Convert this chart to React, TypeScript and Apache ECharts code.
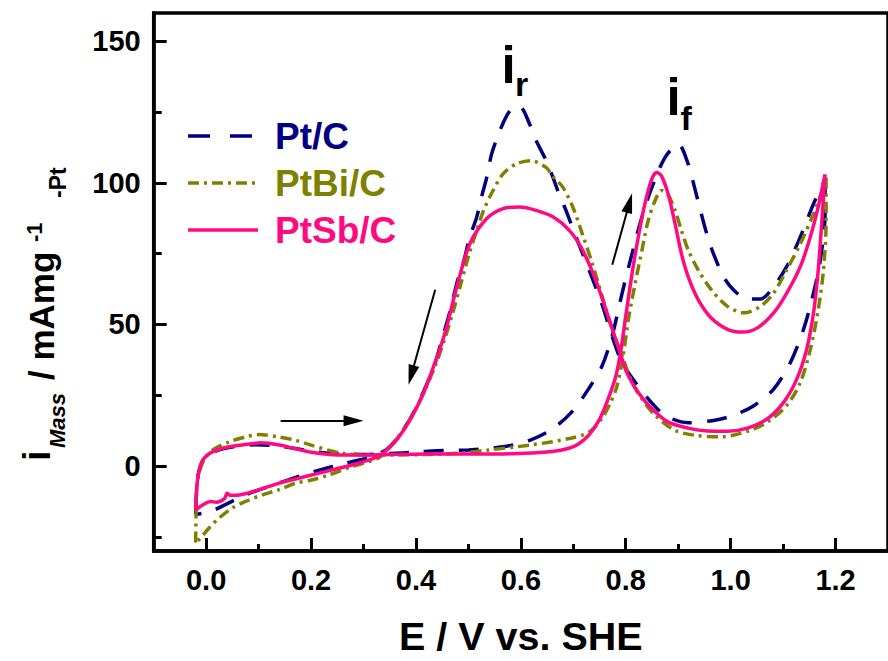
import React, { useEffect, useRef } from "react";
import * as echarts from "echarts";

const FONT = '"Liberation Sans", Arial, Helvetica, sans-serif';

// Axis ticks
const xMajorTicks = [0, 0.2, 0.4, 0.6, 0.8, 1.0, 1.2];
const xMinorTicks = [0.1, 0.3, 0.5, 0.7, 0.9, 1.1];
const yMajorTicks = [0, 50, 100, 150];
const yMinorTicks = [-25, 25, 75, 125];

const seriesNames = ["Pt/C", "PtBi/C", "PtSb/C"];
const seriesColors = ["#000080", "#808000", "#FF0A80"];

// Pt/C loop (forward then reverse scan)
const ptcE = [
  -0.02, -0.018, -0.014, -0.006, 0.01, 0.03, 0.06, 0.094, 0.13, 0.17,
  0.2, 0.24, 0.3, 0.35, 0.4, 0.44, 0.5, 0.566, 0.617, 0.661,
  0.699, 0.73, 0.755, 0.774, 0.793, 0.812, 0.831, 0.85, 0.875, 0.9,
  0.919, 0.931, 0.944, 0.956, 0.967, 0.986, 1.005, 1.032, 1.057, 1.082,
  1.107, 1.133, 1.158, 1.18,
  1.18, 1.17, 1.158, 1.139, 1.114, 1.082, 1.045, 1.005, 0.967, 0.919,
  0.875, 0.843, 0.818, 0.793, 0.774, 0.755, 0.73, 0.705, 0.686, 0.673,
  0.661, 0.648, 0.629, 0.617, 0.601, 0.588, 0.573, 0.557, 0.544, 0.535,
  0.525, 0.516, 0.503, 0.49, 0.478, 0.466, 0.45, 0.435, 0.415, 0.39,
  0.365, 0.345, 0.315, 0.264, 0.201, 0.138, 0.075, 0.009, -0.02,
];
const ptcI = [
  -17, -8, -2, 2, 4.5, 6, 7, 7.5, 7.2, 6.2,
  5.2, 4.4, 4.1, 4.4, 4.9, 5.4, 5.7, 6.8, 9.1, 13.2,
  19.5, 27.5, 35.4, 46, 61, 75, 88, 98.5, 109, 113.7,
  106.7, 98.5, 89.1, 81, 75.1, 67, 62.3, 59, 59, 63.4,
  70.5, 81, 92.6, 101,
  89, 71.6, 61.1, 48.3, 36.6, 27.2, 21.4, 17.9, 16.1, 15.3,
  17.9, 23.7, 29.6, 36.6, 45.9, 57, 69.3, 81, 90.3, 96,
  102, 108, 115, 120.6, 126.6, 127, 123.7, 117, 110, 102,
  95, 88, 81, 71.6, 64.6, 55.3, 45, 35.5, 26.5, 17,
  10, 6, 3.3, 0.9, -2.2, -6.1, -10.2, -16, -17,
];

// PtBi/C loop
const ptbiE = [
  -0.02, -0.019, -0.017, -0.006, 0.012, 0.044, 0.075, 0.1, 0.138, 0.17,
  0.2, 0.233, 0.264, 0.3, 0.36, 0.42, 0.48, 0.535, 0.617, 0.692,
  0.73, 0.755, 0.77, 0.783, 0.795, 0.805, 0.818, 0.831, 0.843, 0.856,
  0.868, 0.881, 0.894, 0.906, 0.919, 0.938, 0.963, 0.994, 1.026, 1.057,
  1.082, 1.107, 1.133, 1.158, 1.177, 1.182,
  1.182, 1.177, 1.167, 1.152, 1.133, 1.107, 1.07, 1.032, 0.982, 0.931,
  0.894, 0.856, 0.831, 0.812, 0.793, 0.774, 0.755, 0.736, 0.717, 0.699,
  0.68, 0.66, 0.648, 0.62, 0.591, 0.566, 0.547, 0.529, 0.516, 0.5,
  0.485, 0.47, 0.455, 0.438, 0.415, 0.39, 0.365, 0.345, 0.327, 0.277,
  0.233, 0.201, 0.17, 0.138, 0.107, 0.075, 0.05, 0.025, 0.006, -0.013, -0.02,
];
const ptbiI = [
  -27, -15, -5.5, 1.5, 5.6, 8.5, 10.3, 11.1, 10.3, 9.1,
  7.4, 5.6, 4.4, 3.9, 3.9, 4.1, 4.5, 5.6, 7.4, 9.7,
  12, 17, 22, 28, 39, 51.8, 64.6, 76.3, 86.8, 93.8,
  97.3, 95.6, 90.3, 83.3, 76.3, 69.3, 62.3, 56.4, 54.1, 56.4,
  61.1, 69.3, 78.6, 89.1, 98.5, 102,
  86.8, 69.3, 55.3, 41.3, 29.6, 21.4, 15.5, 12.3, 10.3, 10.9,
  12.6, 17.9, 23.7, 29.6, 38.9, 48.3, 59.9, 71.6, 82.1, 91.5,
  98.5, 102.5, 105.5, 107.8, 106.7, 103.2, 97.3, 90.3, 83.3, 74,
  64, 54, 45, 36, 26, 17, 10, 5.5, 2.7, -0.2,
  -3.2, -4.9, -6.1, -8.4, -10.2, -12.5, -14.8, -18.3, -21.8, -25.9, -27,
];

// PtSb/C loop
const ptsbE = [
  -0.02, -0.018, -0.015, -0.008, 0.0, 0.012, 0.03, 0.05, 0.075, 0.105,
  0.14, 0.17, 0.2, 0.235, 0.27, 0.3, 0.35, 0.4, 0.45, 0.5,
  0.566, 0.62, 0.66, 0.69, 0.71, 0.73, 0.75, 0.765, 0.78, 0.79,
  0.8, 0.812, 0.824, 0.837, 0.85, 0.859, 0.868, 0.881, 0.894, 0.906,
  0.919, 0.938, 0.963, 0.994, 1.022, 1.051, 1.082, 1.107, 1.133, 1.152,
  1.167, 1.18,
  1.174, 1.167, 1.158, 1.145, 1.126, 1.101, 1.07, 1.032, 0.994, 0.956,
  0.919, 0.881, 0.85, 0.824, 0.802, 0.787, 0.768, 0.743, 0.717, 0.692,
  0.661, 0.629, 0.598, 0.566, 0.535, 0.503, 0.478, 0.459, 0.445, 0.434,
  0.415, 0.39, 0.365, 0.345, 0.327, 0.289, 0.252, 0.214, 0.176, 0.138,
  0.1, 0.063, 0.045, 0.04, 0.035, 0.019, 0.008, -0.005, -0.02,
];
const ptsbI = [
  -15.5, -8, -3, 1.5, 3.5, 5, 6.2, 7, 7.6, 8.2,
  7.4, 6.1, 4.9, 4.1, 3.9, 3.9, 4.1, 4.2, 4.3, 4.3,
  4.3, 4.6, 5.1, 6.2, 7.8, 11, 16.5, 23, 31, 40,
  53, 68, 81, 93, 101.5, 103.7, 102.5, 96, 85.6, 75.1,
  66.9, 58.8, 52.3, 48.3, 47.3, 48.8, 54.1, 61.1, 70.5, 81,
  91.5, 103,
  86.8, 69.3, 54.1, 41.3, 30.7, 22.5, 16.7, 13.4, 12.3, 12.4,
  13.4, 15.5, 20.2, 26, 33, 41.3, 52, 65.5, 76.5, 83.3,
  88, 90.3, 91.5, 90.9, 87.4, 78.6, 63.4, 49.4, 41, 35.4,
  26, 16.7, 9.7, 5.8, 3.3, 0.9, -0.8, -2.6, -4.3, -6.1,
  -8.4, -10.2, -10.3, -9.6, -11.5, -12.8, -12.5, -13.6, -15.5,
];

// Scan-direction arrows (data coordinates: start, end)
const arrowStarts = [
  [0.142, 16],
  [0.4367, 62.3],
  [0.7743, 71.1],
];
const arrowEnds = [
  [0.281, 16],
  [0.391, 32.1],
  [0.807, 92.9],
];

const xTitle = "E / V vs. SHE";

const loops = [
  { E: ptcE, I: ptcI, dash: [20, 15] as number[] | string },
  { E: ptbiE, I: ptbiI, dash: [11, 5, 3, 5] as number[] | string },
  { E: ptsbE, I: ptsbI, dash: "solid" as number[] | string },
];
const legendDash: (number[] | null)[] = [[22, 20], [11, 5, 3, 5], null];

function rotText(text: string, fs: number, baselineX: number, startY: number, italic = false) {
  return {
    type: "text",
    x: baselineX - 0.3465 * fs,
    y: startY,
    rotation: Math.PI / 2,
    silent: true,
    style: {
      text,
      x: 0,
      y: 0,
      align: "left",
      verticalAlign: "middle",
      fontSize: fs,
      fontWeight: "bold",
      fontStyle: italic ? "italic" : "normal",
      fontFamily: FONT,
      fill: "#000",
    },
  };
}

function flatText(text: string, fs: number, leftX: number, baselineY: number, color = "#000") {
  return {
    type: "text",
    x: leftX,
    y: baselineY - 0.3465 * fs,
    silent: true,
    style: {
      text,
      x: 0,
      y: 0,
      align: "left",
      verticalAlign: "middle",
      fontSize: fs,
      fontWeight: "bold",
      fontFamily: FONT,
      fill: color,
    },
  };
}

export default function App() {
  const ref = useRef<HTMLDivElement>(null);

  useEffect(() => {
    document.body.style.margin = "0";
    if (!ref.current) return;
    const chart = echarts.init(ref.current, null, { renderer: "svg" });

    const axisLineStyle = { color: "#000", width: 3.5 };
    const tickLineStyle = { color: "#000", width: 3 };

    const legendRows = [136, 183, 230];
    const legendGraphics: any[] = [];
    seriesNames.forEach((n, i) => {
      legendGraphics.push({
        type: "line",
        silent: true,
        shape: { x1: 188, y1: legendRows[i], x2: 258, y2: legendRows[i] },
        style: {
          stroke: seriesColors[i],
          lineWidth: 3.5,
          lineDash: legendDash[i] || undefined,
          lineCap: "butt",
        },
      });
      legendGraphics.push({
        type: "text",
        x: 275,
        y: legendRows[i],
        silent: true,
        style: {
          text: n,
          x: 0,
          y: 0,
          align: "left",
          verticalAlign: "middle",
          fontSize: 37,
          fontWeight: "bold",
          fontFamily: FONT,
          fill: seriesColors[i],
        },
      });
    });

    const option: any = {
      animation: false,
      backgroundColor: "#fff",
      textStyle: { fontFamily: FONT },
      grid: {
        left: 153.7,
        right: -7.5,
        top: 13,
        bottom: 104.5,
        show: true,
        borderColor: "#000",
        borderWidth: 3.5,
        backgroundColor: "transparent",
      },
      xAxis: [
        {
          type: "value",
          min: -0.1,
          max: 1.3,
          position: "bottom",
          axisLine: { show: true, onZero: false, lineStyle: axisLineStyle },
          axisTick: {
            show: true,
            inside: true,
            length: 13,
            customValues: xMajorTicks,
            lineStyle: tickLineStyle,
          },
          axisLabel: {
            show: true,
            customValues: xMajorTicks,
            formatter: (v: number) => v.toFixed(1),
            margin: 14,
            fontSize: 29,
            fontWeight: "bold",
            color: "#000",
            fontFamily: FONT,
          },
          splitLine: { show: false },
          name: xTitle,
          nameLocation: "middle",
          nameGap: 65,
          nameTextStyle: {
            fontSize: 39.5,
            fontWeight: "bold",
            color: "#000",
            fontFamily: FONT,
          },
        },
        {
          type: "value",
          min: -0.1,
          max: 1.3,
          position: "bottom",
          axisLine: { show: false, onZero: false },
          axisTick: {
            show: true,
            inside: true,
            length: 7,
            customValues: xMinorTicks,
            lineStyle: tickLineStyle,
          },
          axisLabel: { show: false },
          splitLine: { show: false },
        },
      ],
      yAxis: [
        {
          type: "value",
          min: -30,
          max: 160,
          position: "left",
          axisLine: { show: true, onZero: false, lineStyle: axisLineStyle },
          axisTick: {
            show: true,
            inside: true,
            length: 13,
            customValues: yMajorTicks,
            lineStyle: tickLineStyle,
          },
          axisLabel: {
            show: true,
            customValues: yMajorTicks,
            formatter: (v: number) => String(v),
            margin: 13,
            fontSize: 29,
            fontWeight: "bold",
            color: "#000",
            fontFamily: FONT,
          },
          splitLine: { show: false },
        },
        {
          type: "value",
          min: -30,
          max: 160,
          position: "left",
          axisLine: { show: false, onZero: false },
          axisTick: {
            show: true,
            inside: true,
            length: 8,
            customValues: yMinorTicks,
            lineStyle: tickLineStyle,
          },
          axisLabel: { show: false },
          splitLine: { show: false },
        },
      ],
      series: [
        ...loops.map((l, i) => ({
          type: "line",
          name: seriesNames[i],
          xAxisIndex: 0,
          yAxisIndex: 0,
          data: l.E.map((e, k) => [e, l.I[k]]),
          showSymbol: false,
          symbol: "none",
          smooth: 0.3,
          silent: true,
          z: 2 + i,
          lineStyle: {
            color: seriesColors[i],
            width: 3.5,
            type: l.dash,
            cap: "butt",
          },
        })),
        {
          type: "line",
          name: "arrows",
          xAxisIndex: 0,
          yAxisIndex: 0,
          data: [],
          silent: true,
          z: 6,
          markLine: {
            silent: true,
            animation: false,
            symbol: ["none", "triangle"],
            symbolSize: [11, 20],
            label: { show: false },
            lineStyle: { color: "#000", width: 2, type: "solid" },
            emphasis: { disabled: true },
            data: arrowStarts.map((s, i) => [
              { coord: s },
              { coord: arrowEnds[i] },
            ]),
          },
        },
      ],
      graphic: [
        ...legendGraphics,
        // peak labels
        flatText("i", 51, 501.5, 83),
        flatText("r", 34, 515, 96),
        flatText("i", 51, 666.5, 115),
        flatText("f", 34, 680.5, 130),
        // y-axis title (rotated pieces)
        rotText("i", 38, 50, 461),
        rotText("Mass", 22, 65, 448, true),
        rotText("/ mAmg", 35, 54, 380),
        rotText("-1", 22, 42, 242),
        rotText("-Pt", 23, 66, 198),
      ],
    };

    chart.setOption(option);
    return () => {
      chart.dispose();
    };
  }, []);

  return <div ref={ref} style={{ width: 888, height: 661 }} />;
}
